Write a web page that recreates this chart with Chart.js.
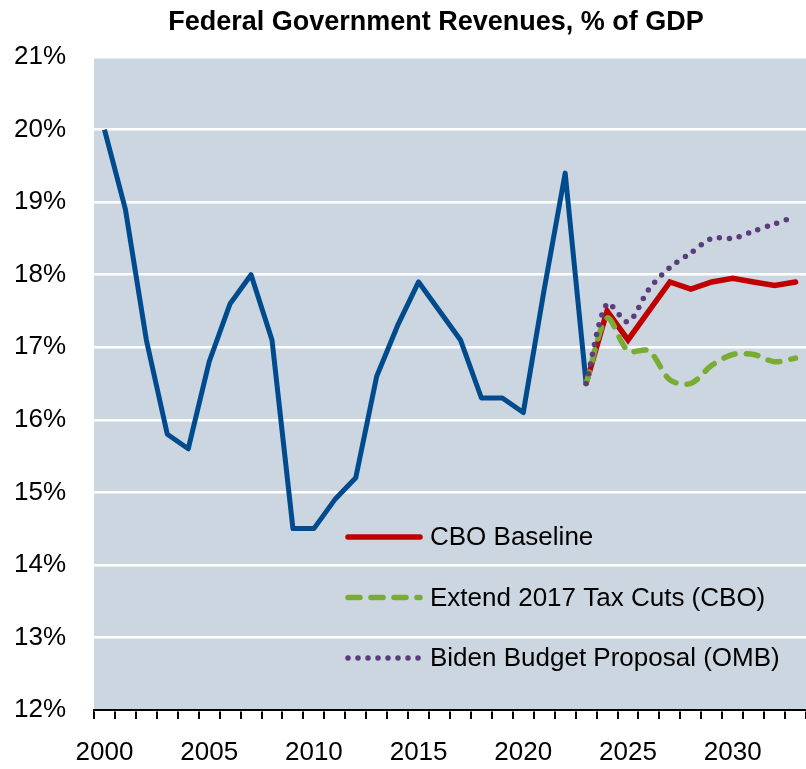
<!DOCTYPE html>
<html>
<head>
<meta charset="utf-8">
<script src="https://cdn.jsdelivr.net/npm/chart.js@4"></script>
<style>
  body { margin: 0; background: #fff; }
  canvas { display: block; }
</style>
</head>
<body>
<canvas id="grafico" width="806" height="769"></canvas>
<script>
// anos (categorias)
const years = [2000, 2001, 2002, 2003, 2004, 2005, 2006, 2007, 2008, 2009,
               2010, 2011, 2012, 2013, 2014, 2015, 2016, 2017, 2018, 2019,
               2020, 2021, 2022, 2023, 2024, 2025, 2026, 2027, 2028, 2029,
               2030, 2031, 2032, 2033];

// receitas efetivas, % do PIB
const actual = [20.0, 18.9, 17.1, 15.8, 15.6, 16.8, 17.6, 18.0, 17.1, 14.5,
                14.5, 14.9, 15.2, 16.6, 17.3, 17.9, 17.5, 17.1, 16.3, 16.3,
                16.1, 17.8, 19.4, 16.5, null, null, null, null, null, null,
                null, null, null, null];

// projecoes
const cboBaseline = [null, null, null, null, null, null, null, null, null, null,
                     null, null, null, null, null, null, null, null, null, null,
                     null, null, null, 16.5, 17.5, 17.1, 17.5, 17.9, 17.8, 17.9,
                     17.95, 17.9, 17.85, 17.9];
const extendTaxCuts = [null, null, null, null, null, null, null, null, null, null,
                       null, null, null, null, null, null, null, null, null, null,
                       null, null, null, 16.5, 17.4, 16.95, 16.95, 16.55, 16.5, 16.75,
                       16.9, 16.9, 16.8, 16.85];
const bidenBudget = [null, null, null, null, null, null, null, null, null, null,
                     null, null, null, null, null, null, null, null, null, null,
                     null, null, null, 16.5, 17.6, 17.35, 17.8, 18.1, 18.3, 18.5,
                     18.5, 18.6, 18.7, 18.8];

const yTicks = [12, 13, 14, 15, 16, 17, 18, 19, 20, 21];
const xLabelYears = [2000, 2005, 2010, 2015, 2020, 2025, 2030];
const legendOrder = ['CBO Baseline', 'Extend 2017 Tax Cuts (CBO)', 'Biden Budget Proposal (OMB)'];

const mainFont = "'Liberation Sans', Arial, sans-serif";

// fundo da area do grafico + titulo + legenda dentro do grafico
const desenho = {
    id: 'desenho',
    beforeDraw(chart) {
        const { ctx, chartArea: a } = chart;
        ctx.save();
        ctx.fillStyle = '#CCD6E0';
        ctx.fillRect(a.left, a.top, a.right - a.left, a.bottom - a.top);
        ctx.restore();
    },
    afterDraw(chart) {
        const { ctx, chartArea: a } = chart;
        ctx.save();
        // titulo
        ctx.fillStyle = '#000';
        ctx.font = "bold 27px " + mainFont;
        ctx.textAlign = 'center';
        ctx.textBaseline = 'middle';
        ctx.fillText('Federal Government Revenues, % of GDP', 436, 23);

        // legenda
        ctx.font = "26px " + mainFont;
        ctx.textAlign = 'left';
        let y = a.top + 480;
        legendOrder.forEach(nome => {
            const ds = chart.data.datasets.find(d => d.label === nome);
            ctx.beginPath();
            ctx.strokeStyle = ds.borderColor;
            ctx.lineWidth = ds.borderWidth;
            ctx.lineCap = ds.borderCapStyle || 'butt';
            ctx.setLineDash(ds.borderDash || []);
            ctx.moveTo(a.left + 254, y);
            ctx.lineTo(a.left + 326, y);
            ctx.stroke();
            ctx.setLineDash([]);
            ctx.fillStyle = '#000';
            ctx.fillText(ds.label, a.left + 336, y + 1);
            y += 60.5;
        });
        ctx.restore();
    }
};

new Chart(document.getElementById('grafico'), {
    type: 'line',
    data: {
        labels: years,
        datasets: [
            {
                label: 'Biden Budget Proposal (OMB)',
                data: bidenBudget,
                borderColor: '#5C3C7C',
                borderWidth: 5.5,
                borderDash: [0, 10],
                borderCapStyle: 'round',
                tension: 0.3,
                pointRadius: 0,
                order: 0
            },
            {
                label: 'Extend 2017 Tax Cuts (CBO)',
                data: extendTaxCuts,
                borderColor: '#7AAC34',
                borderWidth: 5.5,
                borderDash: [12, 11],
                borderCapStyle: 'round',
                tension: 0.3,
                pointRadius: 0,
                order: 1
            },
            {
                label: 'CBO Baseline',
                data: cboBaseline,
                borderColor: '#C00000',
                borderWidth: 5.5,
                borderCapStyle: 'round',
                tension: 0,
                pointRadius: 0,
                order: 2
            },
            {
                label: 'Actual',
                data: actual,
                borderColor: '#004B8D',
                borderWidth: 5,
                borderJoinStyle: 'round',
                tension: 0,
                pointRadius: 0,
                order: 3
            }
        ]
    },
    options: {
        responsive: false,
        animation: false,
        layout: {
            padding: { top: 57, right: 0, bottom: 0, left: 0 }
        },
        scales: {
            x: {
                type: 'category',
                offset: true,
                afterFit: function(scale) {
                    scale.height = 59;
                    // sem folga lateral: a area do grafico vai ate a borda
                    scale.paddingLeft = 0;
                    scale.paddingRight = 0;
                },
                grid: {
                    offset: true,
                    drawOnChartArea: false,
                    drawTicks: true,
                    tickLength: 9,
                    color: '#000',
                    lineWidth: 2
                },
                border: { display: true, color: '#000', width: 2 },
                ticks: {
                    autoSkip: false,
                    maxRotation: 0,
                    padding: 18,
                    color: '#000',
                    font: { family: mainFont, size: 26 },
                    callback: function(value) {
                        const yr = years[value];
                        return xLabelYears.includes(yr) ? String(yr) : '';
                    }
                }
            },
            y: {
                min: yTicks[0],
                max: yTicks[yTicks.length - 1],
                afterFit: function(scale) { scale.width = 94; },
                afterBuildTicks: function(scale) {
                    scale.ticks = yTicks.map(v => ({ value: v }));
                },
                grid: {
                    color: '#FFFFFF',
                    lineWidth: 2.5,
                    drawTicks: false
                },
                border: { display: false },
                ticks: {
                    padding: 28,
                    color: '#000',
                    font: { family: mainFont, size: 26 },
                    callback: function(value) { return value + '%'; }
                }
            }
        },
        plugins: {
            legend: { display: false },
            title: { display: false },
            tooltip: { enabled: false }
        }
    },
    plugins: [desenho]
});
</script>
</body>
</html>
